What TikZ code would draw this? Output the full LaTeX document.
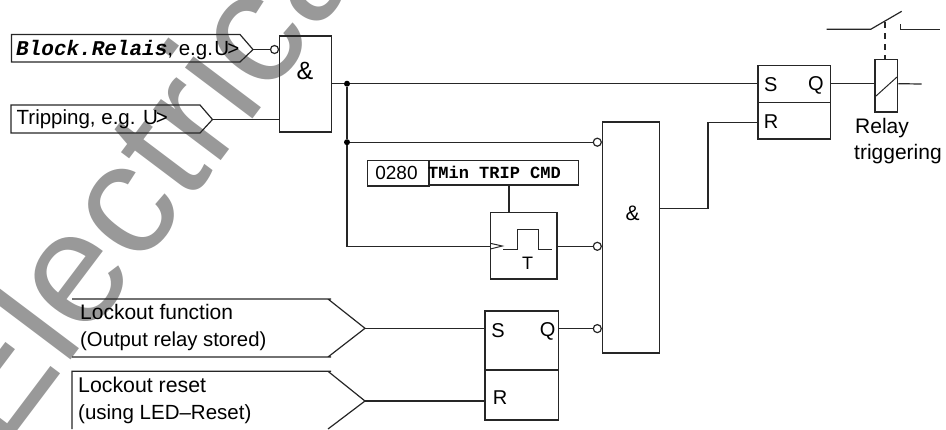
\documentclass[tikz,border=0pt]{standalone}
\usepackage{fontspec}
\setmainfont{Liberation Sans}
\setmonofont{Liberation Mono}
\tikzset{
  wire/.style={line width=1.2pt,draw=black!85},
  blk/.style={draw=black!85,line width=1.2pt,rectangle,inner sep=0pt,fill=none},
  neg/.style={draw=black!85,line width=1.2pt,circle,minimum size=8pt,inner sep=0pt,fill=white},
  dot/.style={circle,fill=black,minimum size=6pt,inner sep=0pt},
  lbl/.style={inner sep=0pt,anchor=base west,font=\fontsize{20.5}{22}\selectfont,text=black},
  lbc/.style={inner sep=0pt,font=\fontsize{20}{22}\selectfont,text=black},
}
\begin{document}
\begin{tikzpicture}[x=1pt,y=-1pt]
\useasboundingbox (0,0) rectangle (946,429);
\begin{scope}
\clip (0,0) rectangle (946,429);
\node[inner sep=0pt,anchor=base west,rotate=53,text=black!40,font=\fontsize{160}{160}\selectfont] (wm) at (0,454) {Electrica};
\end{scope}
% input pentagons
\draw[wire] (11.5,34.5) -- (240,34.5) -- (253,49.5) coordinate (blocktip) -- (240,62) -- (11.5,62) -- cycle;
\node[lbl] (blocktxt) at (16,55) {{\fontsize{21}{22}\selectfont\ttfamily\bfseries\itshape Block.Relais}, e.g.\hspace{1.5pt}U\kern-2pt>};
\draw[wire] (11,105) -- (200,105) -- (212.5,119.5) coordinate (triptip) -- (200,133) -- (11,133) -- cycle;
\node[lbl] (triptxt) at (16.5,124) {Tripping, e.g. U\kern-2pt>};
\draw[wire] (72,299) -- (331,299) (328,299) -- (365,328.3) coordinate (locktip) -- (328,357) (331,357) -- (72,357) -- cycle;
\node[lbl,font=\fontsize{21}{22}\selectfont] (locktxta) at (80,319.5) {Lockout function};
\node[lbl,font=\fontsize{20.3}{22}\selectfont] (locktxtb) at (80,346) {(Output relay stored)};
\draw[wire] (72,429) -- (72,371.3) -- (331,371.3) (328,371.3) -- (365,401) coordinate (resettip) -- (328,429);
\node[lbl,font=\fontsize{21.3}{22}\selectfont] (resettxta) at (78,392) {Lockout reset};
\node[lbl] (resettxtb) at (78,419.5) {(using LED–Reset)};
% blocks
\node[blk,minimum width=52pt,minimum height=96pt] (andA) at (305.5,84) {};
\node[lbc,font=\fontsize{25}{26}\selectfont] (andAt) at (305,71) {\&};
\node[blk,minimum width=57.4pt,minimum height=231pt] (andB) at (631,237.5) {};
\node[lbc,font=\fontsize{21}{22}\selectfont] (andBt) at (632.7,213) {\&};
\node[blk,minimum width=72.3pt,minimum height=73.3pt] (srA) at (794.1,102.3) {};
\draw[wire] (srA.west |- 0,102.7) -- (srA.east |- 0,102.7);
\node[lbc] (srAs) at (770.7,84.5) {S};
\node[lbc] (srAq) at (816,85) {Q};
\node[lbc] (srAr) at (771,122) {R};
\node[blk,minimum width=73.3pt,minimum height=109pt] (srB) at (521.6,365.5) {};
\draw[wire] (srB.west |- 0,370) -- (srB.east |- 0,370);
\node[lbc] (srBs) at (498,330.7) {S};
\node[lbc] (srBq) at (547.7,331) {Q};
\node[lbc] (srBr) at (500,398) {R};
% timer
\node[blk,minimum width=66.7pt,minimum height=66.3pt] (tm) at (523.6,245.8) {};
\draw[wire,line width=1pt] (490.3,243.3) -- (502.3,246) -- (490.3,249);
\draw[wire] (503.3,249.3) -- (517.3,249.3) -- (517.3,229.3) -- (538.3,229.3) -- (538.3,249.3) -- (552.3,249.3);
\node[lbc,font=\fontsize{18}{20}\selectfont] (tmt) at (527.7,263) {T};
% parameter
\node[blk,minimum width=61.3pt,minimum height=25.7pt] (pnum) at (398.4,173.2) {};
\node[lbc,font=\fontsize{19}{20}\selectfont] (pnumt) at (396.5,172.5) {0280};
\node[blk,minimum width=149.3pt,minimum height=24.7pt] (pname) at (503.7,172.7) {};
\node[lbc,font=\fontsize{17}{18}\selectfont\ttfamily\bfseries] (pnamet) at (494.5,172.5) {TMin TRIP CMD};
% relay
\node[blk,minimum width=22.7pt,minimum height=52.7pt] (rel) at (886.4,85.7) {};
\draw[wire,line width=1pt] (876,96) -- (897,77);
\node[lbl,font=\fontsize{21}{22}\selectfont] (relt) at (855,133) {Relay};
\node[lbl,font=\fontsize{21}{22}\selectfont] (trigt) at (854,159) {triggering};
% switch
\draw[wire] (826.7,29.3) -- (870.7,29.3) -- (901.7,11.3);
\draw[wire] (900.7,24) -- (900.7,29.3) -- (940,29.3);
\coordinate (swm) at (885,22);
\draw[wire,dashed,dash pattern=on 6pt off 5pt] (swm) -- (rel.north -| swm);
% inverters
\node[neg] (nA) at (274.5,49.5) {};
\node[neg] (nB) at (597.3,142.2) {};
\node[neg] (nC) at (597.3,246.3) {};
\node[neg] (nD) at (597.3,328.6) {};
% junctions
\node[dot] (j1) at (347,83.7) {};
\node[dot] (j2) at (347,142.2) {};
% connectors
\draw[wire] (blocktip) -- (nA);
\draw[wire] (triptip) -- (andA.west |- triptip);
\coordinate (setA) at (srA.west |- j1);
\draw[wire] (andA.east |- j1) -- (j1) -- (setA);
\draw[wire] (j1) -- (j2) -- (nB);
\draw[wire] (j2) |- (tm.west |- nC);
\draw[wire] (pname.south -| 509,0) -- (tm.north -| 509,0);
\draw[wire] (tm.east |- nC) -- (nC);
\draw[wire] (locktip) -- (srB.west |- locktip);
\draw[wire] (resettip) -- (srB.west |- resettip);
\draw[wire] (srB.east |- nD) -- (nD);
\draw[wire] (andB.east |- 0,208.7) -- (708,208.7) |- (srA.west |- 0,122.7);
\draw[wire] (srA.east |- setA) -- (rel.west |- setA);
\draw[wire] (rel.east |- setA) -- (921.7,84);
\end{tikzpicture}
\end{document}
